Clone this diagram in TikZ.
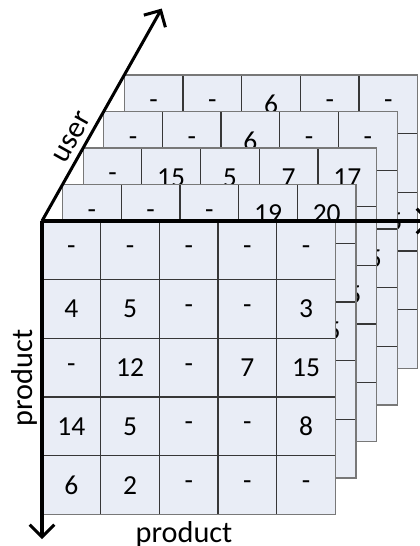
\documentclass[tikz,border=0pt]{standalone}
\usepackage{fontspec}
\setmainfont{Carlito}
\usetikzlibrary{arrows.meta}
\definecolor{cellfill}{RGB}{233,237,246}
\definecolor{cellline}{RGB}{55,55,55}
\definecolor{cellborder}{RGB}{120,120,120}

\begin{document}
\begin{tikzpicture}[scale=1.5,
  axis/.style={line width=2.2pt, -{Straight Barb[length=9pt,width=18pt]}},
  num/.style={font=\fontsize{20}{24}\selectfont, inner sep=0pt},
  lab/.style={font=\fontsize{22}{26}\selectfont}]%

\def\N{5}       %cells per side
\def\dx{0.3505} %shift of one layer
\def\dy{0.6218}

\useasboundingbox (-0.7155,-5.537) rectangle (6.4395,3.765);

%layers behind, back to front
\foreach \k/\row in {4/{-,-,6,-,-},3/{-,-,6,-,-},2/{-,15,5,7,17},1/{-,-,-,19,20}}{
  \begin{scope}[shift={(\k*\dx,\k*\dy)}]
    \fill[cellfill] (0,0) rectangle (\N,-\N);
    \foreach \i in {1,...,4}{
      \draw[cellline, line width=0.9pt] (\i,0) -- (\i,-\N);
      \draw[cellline, line width=0.9pt] (0,-\i) -- (\N,-\i);
    }
    \draw[cellborder, line width=0.9pt] (0,0) rectangle (\N,-\N);
    \foreach \t [count=\i] in \row
      \node[num] (l\k-1-\i) at (\i-0.5,-0.5) {\t};
    \node[num] (l\k-3-5) at (\N-0.5,-2.5) {15};
  \end{scope}
}

%front layer
\fill[cellfill] (0,0) rectangle (\N,-\N);
\foreach \i in {1,...,4}{
  \draw[cellline, line width=0.9pt] (\i,0) -- (\i,-\N);
  \draw[cellline, line width=0.9pt] (0,-\i) -- (\N,-\i);
}
\draw[cellborder, line width=0.9pt] (0,0) rectangle (\N,-\N);
\foreach \row [count=\j] in {{-,-,-,-,-},{4,5,-,-,3},{-,12,-,7,15},{14,5,-,-,8},{6,2,-,-,-}}{
  \foreach \t [count=\i] in \row
    \node[num] (f-\j-\i) at (\i-0.5,0.5-\j) {\t};
}

%axes
\coordinate (O) at (0,0);
\coordinate (U) at (5.82*\dx,5.82*\dy);
\coordinate (P) at (0,-5.42);
\coordinate (Q) at (6.63,0);
\draw[axis] (O) -- (Q);
\draw[axis] (O) -- (P);
\draw[axis] (O) -- (U) node[lab, pos=0.36, sloped, above, inner sep=4pt] (userlab) {user};

%labels
\node[lab, rotate=90, anchor=base] (prodleft) at (-0.17,-2.67) {product};
\node[lab, anchor=base] (prodbot) at (2.42,-5.474) {product};

\end{tikzpicture}
\end{document}
